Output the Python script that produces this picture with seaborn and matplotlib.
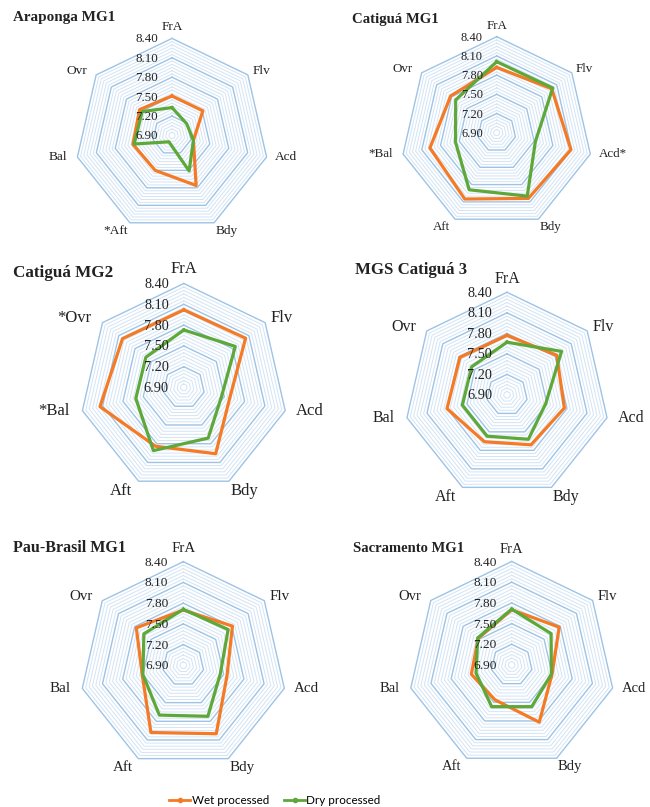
import numpy as np
import pandas as pd
import matplotlib
matplotlib.use("Agg")
import matplotlib.pyplot as plt
from matplotlib.lines import Line2D
import seaborn as sns

# ---------------- data ----------------
attributes = ["FrA", "Flv", "Acd", "Bdy", "Aft", "Bal", "Ovr"]
tick_values = [6.90, 7.20, 7.50, 7.80, 8.10, 8.40]
tick_labels = ["6.90", "7.20", "7.50", "7.80", "8.10", "8.40"]
series_names = ["Wet processed", "Dry processed"]
panel_titles = ["Araponga MG1", "Catiguá MG1", "Catiguá MG2",
                "MGS Catiguá 3", "Pau-Brasil MG1", "Sacramento MG1"]
panel_axis_labels = [
    ["FrA", "Flv", "Acd", "Bdy", "*Aft", "Bal", "Ovr"],
    ["FrA", "Flv", "Acd*", "Bdy", "Aft", "*Bal", "Ovr"],
    ["FrA", "Flv", "Acd", "Bdy", "Aft", "*Bal", "*Ovr"],
    ["FrA", "Flv", "Acd", "Bdy", "Aft", "Bal", "Ovr"],
    ["FrA", "Flv", "Acd", "Bdy", "Aft", "Bal", "Ovr"],
    ["FrA", "Flv", "Acd", "Bdy", "Aft", "Bal", "Ovr"],
]

araponga_wet = [7.51, 7.51, 7.24, 7.76, 7.50, 7.52, 7.54]
araponga_dry = [7.33, 7.19, 7.24, 7.51, 7.01, 7.50, 7.49]
catigua1_wet = [7.92, 8.00, 8.09, 8.04, 8.05, 7.97, 7.82]
catigua1_dry = [8.01, 8.02, 7.52, 8.00, 7.89, 7.56, 7.72]
catigua2_wet = [8.02, 8.04, 7.58, 7.96, 7.84, 8.14, 8.03]
catigua2_dry = [7.73, 7.85, 7.46, 7.71, 7.91, 7.61, 7.60]
mgs3_wet = [7.77, 7.83, 7.76, 7.71, 7.66, 7.80, 7.78]
mgs3_dry = [7.67, 7.92, 7.48, 7.62, 7.57, 7.57, 7.56]
paubrasil_wet = [7.70, 7.81, 7.55, 8.00, 7.98, 7.51, 7.77]
paubrasil_dry = [7.71, 7.73, 7.45, 7.72, 7.70, 7.50, 7.63]
sacramento_wet = [7.70, 7.78, 7.50, 7.82, 7.46, 7.50, 7.52]
sacramento_dry = [7.71, 7.63, 7.49, 7.57, 7.57, 7.43, 7.53]

panel_series = [
    (araponga_wet, araponga_dry),
    (catigua1_wet, catigua1_dry),
    (catigua2_wet, catigua2_dry),
    (mgs3_wet, mgs3_dry),
    (paubrasil_wet, paubrasil_dry),
    (sacramento_wet, sacramento_dry),
]

# ---------------- style / layout ----------------
W, H = 650, 807
plt.rcParams["font.family"] = ["Liberation Serif", "DejaVu Serif"]
palette = {"Wet processed": "#F47A26", "Dry processed": "#5EA83A"}
major_color = "#9DC3E6"
minor_color = "#D3E4F5"

# (cx, cy, R, label fs, tick fs, title x, title y, title fs)
layout = [
    (172.0, 135.4, 97.0, 9.6, 9.3, 13, 18, 10.9),
    (496.7, 132.7, 96.0, 9.4, 8.9, 352, 20, 10.6),
    (183.8, 387.5, 104.0, 12.0, 10.3, 13, 273, 12.3),
    (507.0, 394.9, 102.6, 11.5, 10.3, 355, 270, 12.1),
    (183.3, 665.3, 103.6, 10.8, 9.6, 13, 548, 11.5),
    (511.7, 665.0, 103.5, 10.5, 9.6, 353, 548, 10.5),
]

n = len(attributes)
angles = np.linspace(0, 2 * np.pi, n, endpoint=False)
closed_angles = np.append(angles, 2 * np.pi)

# label offsets (px) and alignment per axis, for label fontsize 11
label_offsets = [((0, 13), "center", "center"),
                 ((5, 4), "left", "center"),
                 ((10, 0), "left", "center"),
                 ((14, -9), "center", "center"),
                 ((-16, -9), "center", "center"),
                 ((-12, 0), "right", "center"),
                 ((-10, 4), "right", "center")]

fig = plt.figure(figsize=(W / 100, H / 100), dpi=100)
fig.patch.set_facecolor("white")

minor_levels = np.round(np.arange(6.95, 8.40, 0.05), 2)

for idx, (cx, cy, R, lfs, tfs, tx, ty, tfs_title) in enumerate(layout):
    ax = fig.add_axes([(cx - R) / W, 1 - (cy + R) / H, 2 * R / W, 2 * R / H],
                      projection="polar")
    ax.set_theta_offset(np.pi / 2)
    ax.set_theta_direction(-1)
    ax.grid(False)
    ax.spines["polar"].set_visible(False)
    ax.set_facecolor("none")

    # heptagon gridlines
    for lv in minor_levels:
        if any(abs(lv - t) < 1e-6 for t in tick_values):
            continue
        ax.plot(closed_angles, [lv] * (n + 1), color=minor_color, lw=0.7,
                zorder=1, clip_on=False)
    for lv in tick_values[1:]:
        ax.plot(closed_angles, [lv] * (n + 1), color=major_color, lw=1.0,
                zorder=2, clip_on=False)

    wet, dry = panel_series[idx]
    rows = []
    for name, vals in zip(series_names, (wet, dry)):
        vv = list(vals) + [vals[0]]
        for th, v in zip(closed_angles, vv):
            rows.append({"theta": th, "value": v, "process": name})
    df = pd.DataFrame(rows)
    sns.lineplot(data=df, x="theta", y="value", hue="process",
                 hue_order=series_names, palette=palette, sort=False,
                 estimator=None, legend=False, ax=ax, linewidth=2.3,
                 zorder=5)
    ax.set_xlabel("")
    ax.set_ylabel("")
    ax.set_rlim(6.90, 8.40)
    ax.set_xticks([])
    ax.set_yticks([])

    # radial tick labels
    s = R / 104.0
    for v, lab in zip(tick_values, tick_labels):
        ax.annotate(lab, xy=(0, v), xytext=(-15 * s, -1),
                    textcoords="offset pixels", ha="right", va="center",
                    fontsize=tfs, color="#222222", zorder=6,
                    annotation_clip=False)

    # category labels
    k = lfs / 11.0
    for th, lab, ((ox, oy), ha, va) in zip(angles, panel_axis_labels[idx],
                                            label_offsets):
        ax.annotate(lab, xy=(th, 8.40), xytext=(ox * k, oy * k),
                    textcoords="offset pixels", ha=ha, va=va,
                    fontsize=lfs, color="#222222", annotation_clip=False)

    fig.text(tx / W, 1 - ty / H, panel_titles[idx], ha="left", va="center",
             fontsize=tfs_title, fontweight="bold", color="#222222")

handles = [Line2D([0], [0], color=palette[nm], lw=2, marker="o", markersize=3)
           for nm in series_names]
fig.legend(handles, series_names, loc="center", bbox_to_anchor=(275 / W, 1 - 801 / H),
           ncol=2, frameon=False, prop={"family": "Lato", "size": 8.4},
           handlelength=1.8, columnspacing=1.3, handletextpad=0.1)

fig.savefig("out.png", dpi=100, facecolor="white")
